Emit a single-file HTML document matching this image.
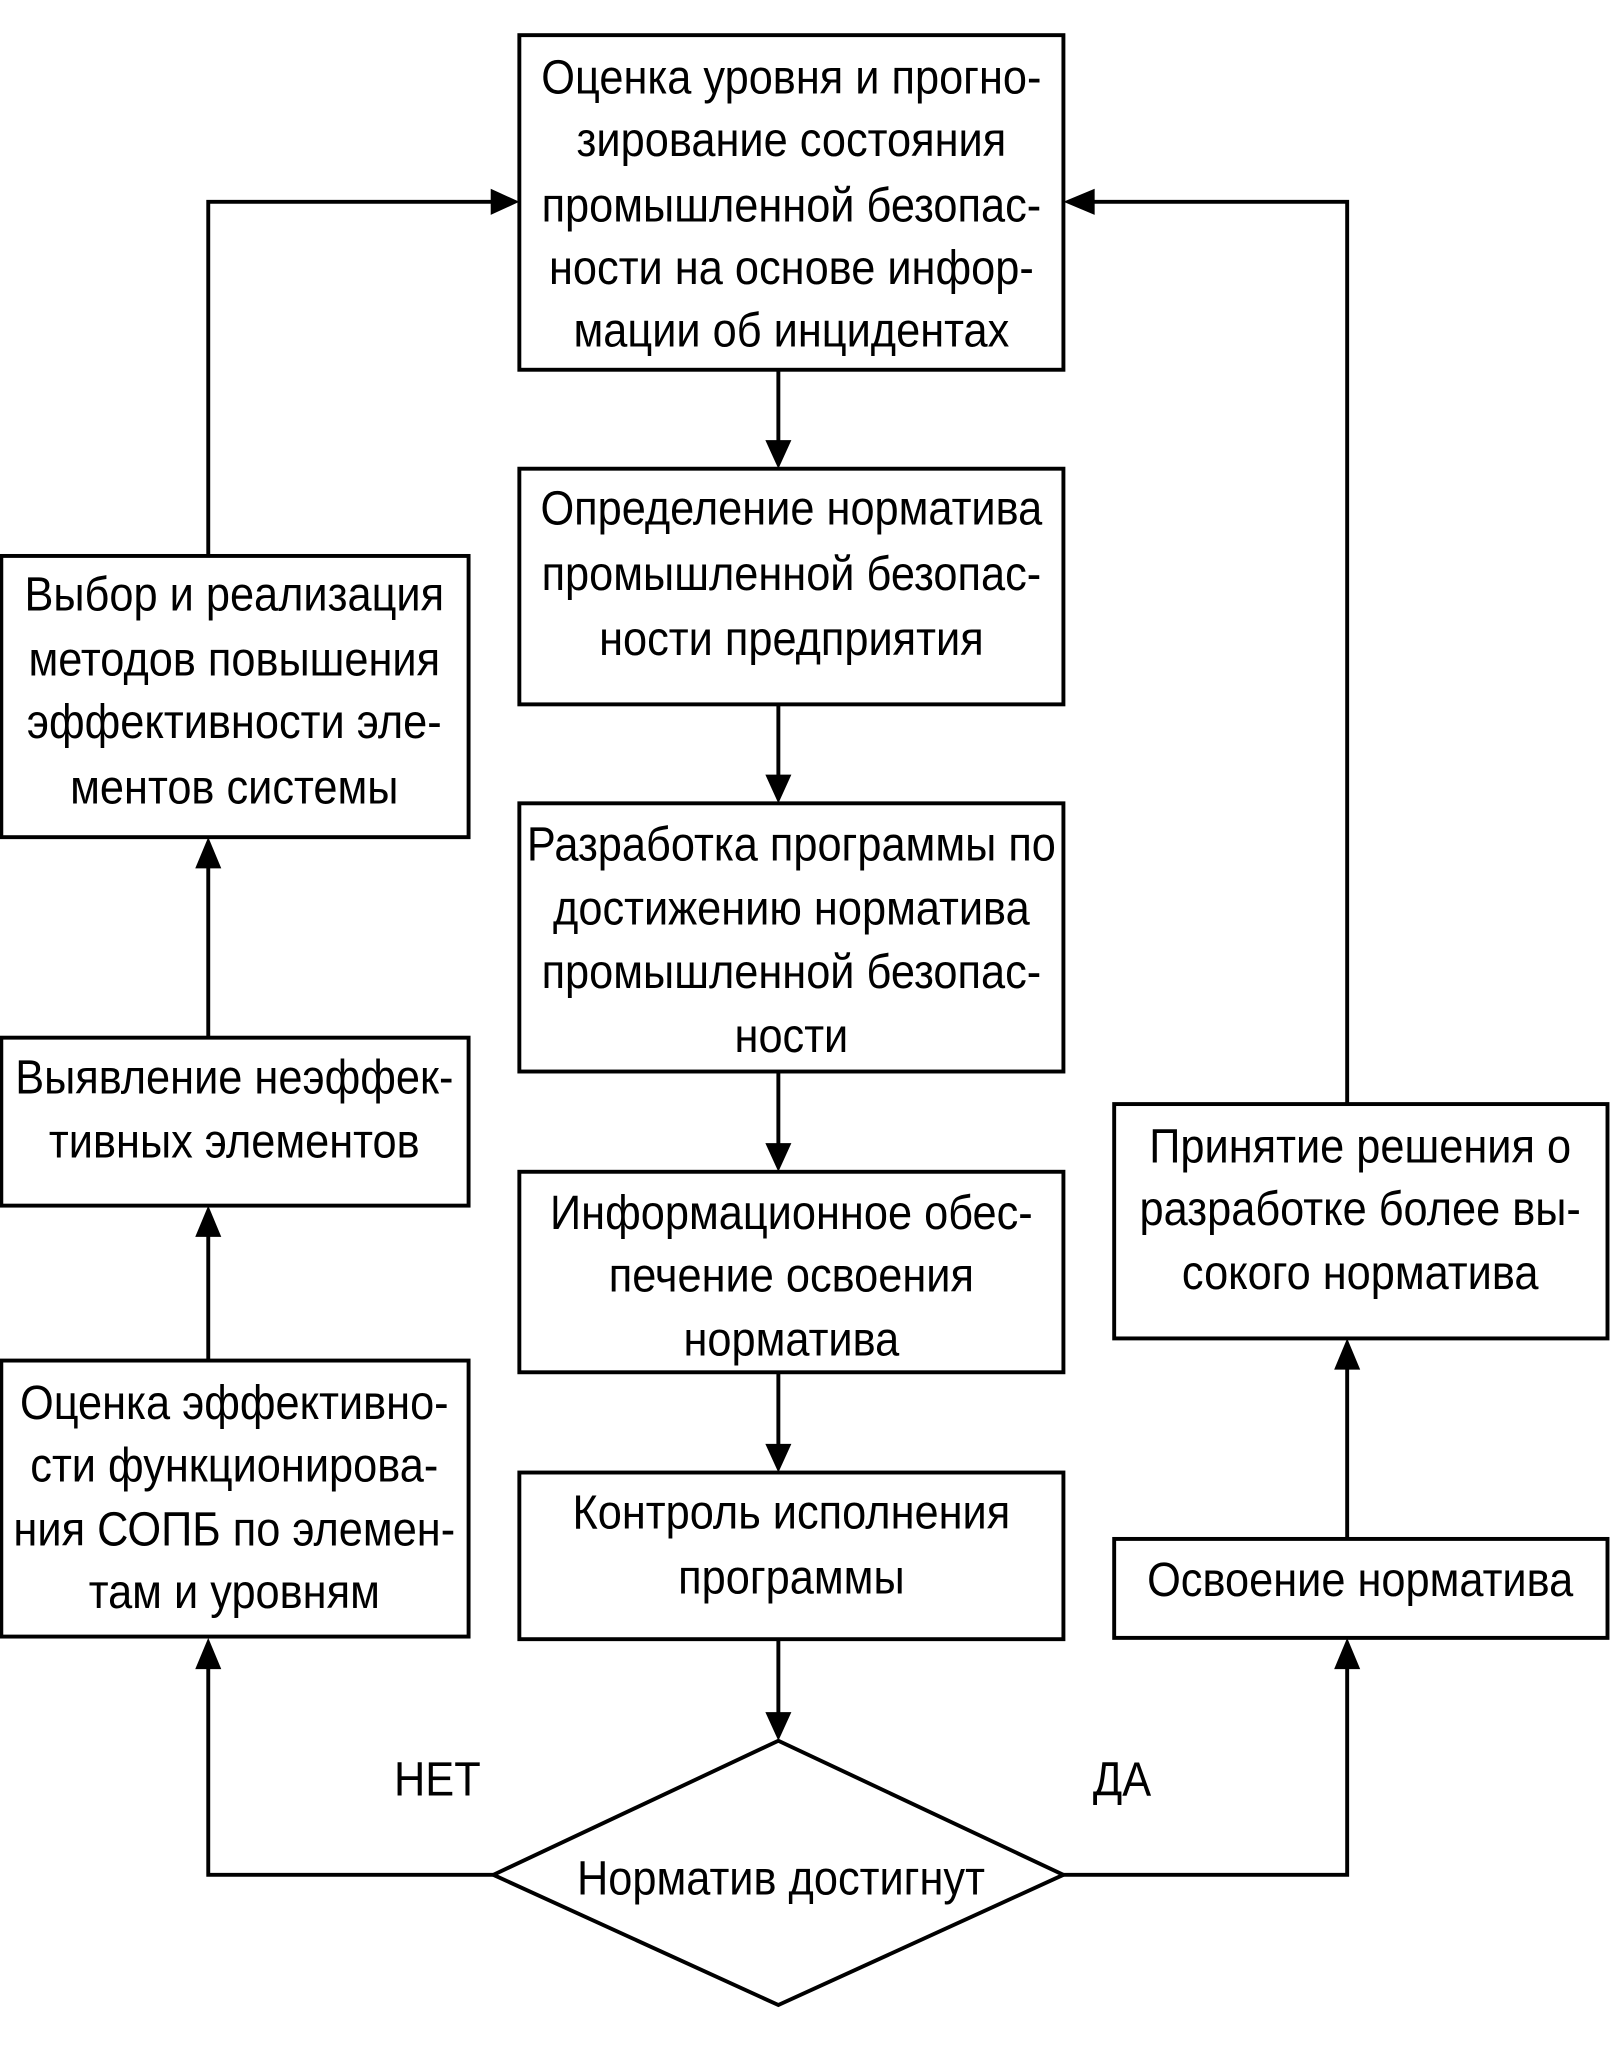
<!DOCTYPE html>
<html><head><meta charset="utf-8">
<style>
html,body{margin:0;padding:0;background:#fff;}
svg{display:block;}
text{font-family:"Liberation Sans",sans-serif;font-size:37px;fill:#000;text-anchor:middle;}
</style></head>
<body>
<svg width="1614" height="2048" viewBox="0 0 1240 1573" preserveAspectRatio="none" xmlns="http://www.w3.org/2000/svg">
<g fill="none" stroke="#000" stroke-width="3">
<rect x="399" y="27" width="418" height="257"/>
<rect x="399" y="360" width="418" height="181"/>
<rect x="399" y="617" width="418" height="206"/>
<rect x="399" y="900" width="418" height="154"/>
<rect x="399" y="1131" width="418" height="128"/>
<polygon points="379,1440 598,1337 817,1440 598,1540"/>
<rect x="1" y="427" width="359" height="216"/>
<rect x="1" y="797" width="359" height="129"/>
<rect x="1" y="1045" width="359" height="212"/>
<rect x="856" y="848" width="379" height="180"/>
<rect x="856" y="1182" width="379" height="76"/>
<polyline points="598,284 598,340"/>
<polyline points="598,541 598,597"/>
<polyline points="598,823 598,880"/>
<polyline points="598,1054 598,1111"/>
<polyline points="598,1259 598,1317"/>
<polyline points="379,1440 160,1440 160,1280"/>
<polyline points="160,1045 160,948"/>
<polyline points="160,797 160,665"/>
<polyline points="160,427 160,155 379,155"/>
<polyline points="817,1440 1035,1440 1035,1280"/>
<polyline points="1035,1182 1035,1050"/>
<polyline points="1035,848 1035,155 839,155"/>
</g>
<g fill="#000">
<polygon points="588,338 608,338 598,360"/>
<polygon points="588,595 608,595 598,617"/>
<polygon points="588,878 608,878 598,900"/>
<polygon points="588,1109 608,1109 598,1131"/>
<polygon points="588,1315 608,1315 598,1337"/>
<polygon points="150,1282 170,1282 160,1258"/>
<polygon points="150,950 170,950 160,926"/>
<polygon points="150,667 170,667 160,643"/>
<polygon points="377,145 377,165 399,155"/>
<polygon points="1025,1282 1045,1282 1035,1258"/>
<polygon points="1025,1052 1045,1052 1035,1028"/>
<polygon points="841,145 841,165 817,155"/>
</g>
<g>
<text transform="translate(608,72) scale(0.9,1)">Оценка уровня и прогно-</text>
<text transform="translate(608,120) scale(0.9,1)">зирование состояния</text>
<text transform="translate(608,170) scale(0.9,1)">промышленной безопас-</text>
<text transform="translate(608,218) scale(0.9,1)">ности на основе инфор-</text>
<text transform="translate(608,266) scale(0.9,1)">мации об инцидентах</text>

<text transform="translate(608,403) scale(0.9,1)">Определение норматива</text>
<text transform="translate(608,453) scale(0.9,1)">промышленной безопас-</text>
<text transform="translate(608,503) scale(0.9,1)">ности предприятия</text>

<text transform="translate(608,661) scale(0.9,1)">Разработка программы по</text>
<text transform="translate(608,710) scale(0.9,1)">достижению норматива</text>
<text transform="translate(608,759) scale(0.9,1)">промышленной безопас-</text>
<text transform="translate(608,808) scale(0.9,1)">ности</text>

<text transform="translate(608,944) scale(0.9,1)">Информационное обес-</text>
<text transform="translate(608,992) scale(0.9,1)">печение освоения</text>
<text transform="translate(608,1041) scale(0.9,1)">норматива</text>

<text transform="translate(608,1174) scale(0.9,1)">Контроль исполнения</text>
<text transform="translate(608,1224) scale(0.9,1)">программы</text>

<text transform="translate(600,1455) scale(0.9,1)">Норматив достигнут</text>
<text transform="translate(336,1379) scale(0.9,1)">НЕТ</text>
<text transform="translate(862,1379) scale(0.9,1)">ДА</text>

<text transform="translate(180,469) scale(0.9,1)">Выбор и реализация</text>
<text transform="translate(180,519) scale(0.9,1)">методов повышения</text>
<text transform="translate(180,567) scale(0.9,1)">эффективности эле-</text>
<text transform="translate(180,617) scale(0.9,1)">ментов системы</text>

<text transform="translate(180,840) scale(0.9,1)">Выявление неэффек-</text>
<text transform="translate(180,889) scale(0.9,1)">тивных элементов</text>

<text transform="translate(180,1090) scale(0.9,1)">Оценка эффективно-</text>
<text transform="translate(180,1138) scale(0.9,1)">сти функционирова-</text>
<text transform="translate(180,1187) scale(0.9,1)">ния СОПБ по элемен-</text>
<text transform="translate(180,1235) scale(0.9,1)">там и уровням</text>

<text transform="translate(1045,893) scale(0.9,1)">Принятие решения  о</text>
<text transform="translate(1045,941) scale(0.9,1)">разработке более вы-</text>
<text transform="translate(1045,990) scale(0.9,1)">сокого норматива</text>

<text transform="translate(1045,1226) scale(0.9,1)">Освоение норматива</text>
</g>
</svg>
</body></html>
